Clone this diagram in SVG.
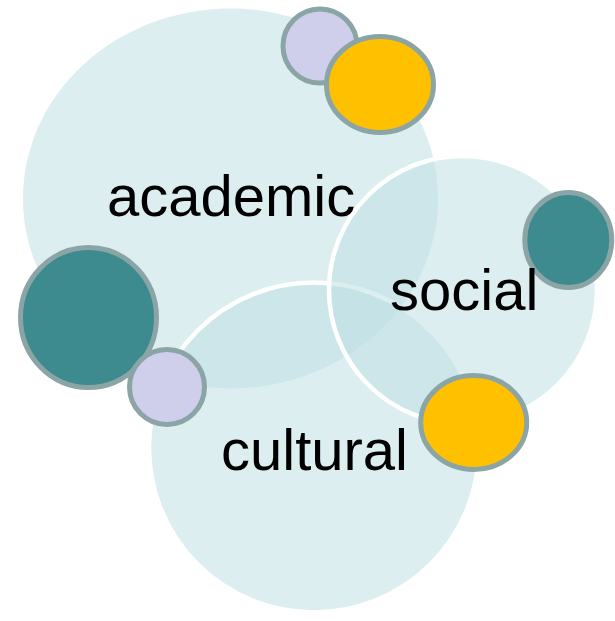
<svg xmlns="http://www.w3.org/2000/svg" width="615" height="621" viewBox="0 0 615 621">
<style>
.big{fill:#BFE0E4;fill-opacity:0.55}
.ring{stroke:#FFFFFF;stroke-width:4.5}
.dot{stroke:#8BA5A6;stroke-width:5}
.teal{fill:#3D8B8F}
.gold{fill:#FFC000}
.lav{fill:#CFCFEC}
.lbl{font-family:"Liberation Sans",Arial,sans-serif;font-size:58px;fill:#000000}
</style>
<rect width="615" height="621" fill="#FFFFFF"/>
<g id="academic-area"><ellipse class="big" cx="230.5" cy="198.5" rx="207.5" ry="190"/></g>
<g id="cultural-area"><circle class="big ring" cx="314" cy="447.5" r="165"/></g>
<g id="social-area"><circle class="big ring" cx="463" cy="290" r="134"/></g>
<g id="connectors"></g>
<g id="dot-lavender-top"><circle class="dot lav" cx="320" cy="46" r="37"/></g>
<g id="dot-gold-top"><ellipse class="dot gold" cx="380" cy="84.5" rx="53.5" ry="48"/></g>
<g id="dot-teal-left"><ellipse class="dot teal" cx="88.5" cy="317.5" rx="68" ry="70"/></g>
<g id="dot-lavender-left"><circle class="dot lav" cx="167" cy="387" r="37.5"/></g>
<g id="dot-teal-right"><ellipse class="dot teal" cx="568.3" cy="240" rx="43.5" ry="47.5"/></g>
<g id="dot-gold-bottom"><ellipse class="dot gold" cx="473.7" cy="422.5" rx="53" ry="47"/></g>
<g id="label-academic"><text class="lbl" x="107" y="216">academic</text></g>
<g id="label-social"><text class="lbl" x="390" y="310">social</text></g>
<g id="label-cultural"><text class="lbl" x="221" y="470">cultural</text></g>
</svg>
